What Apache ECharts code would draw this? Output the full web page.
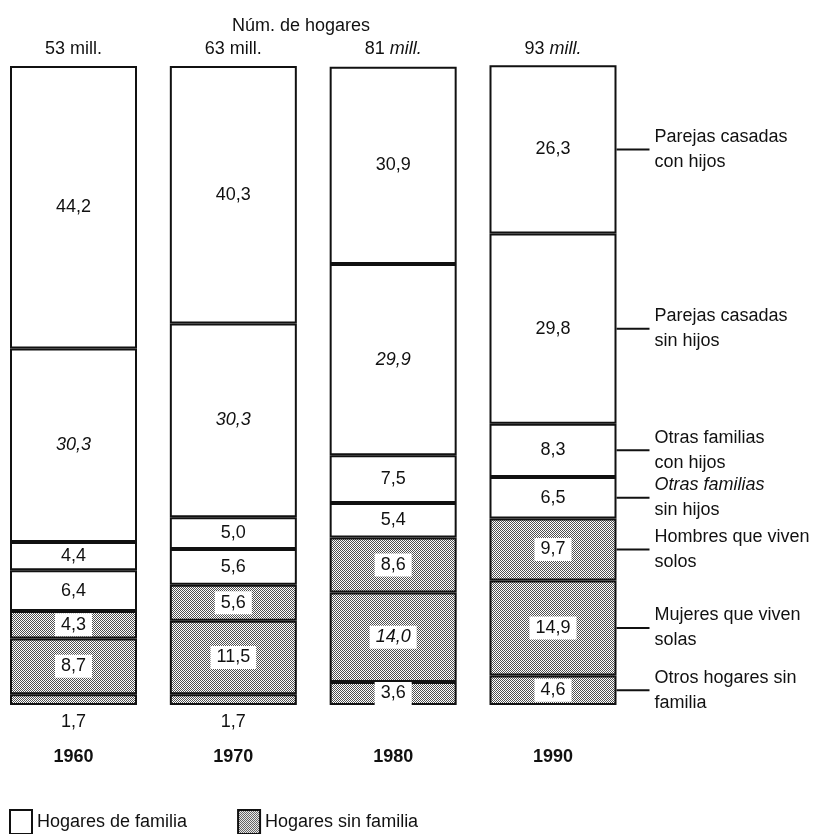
<!DOCTYPE html>
<html>
<head>
<meta charset="utf-8">
<script src="https://cdn.jsdelivr.net/npm/echarts@6/dist/echarts.min.js"></script>
<style>
html,body{margin:0;padding:0;background:#fff;}
#chart{width:839px;height:834px;}
</style>
</head>
<body>
<div id="chart"></div>
<script>
// ---- data ----
const years = ['1960', '1970', '1980', '1990'];
const households = ['53 mill.', '63 mill.', '81 mill.', '93 mill.'];
const otrosHogaresSinFamilia = [1.7, 1.7, 3.6, 4.6];
const mujeresSolas = [8.7, 11.5, 14.0, 14.9];
const hombresSolos = [4.3, 5.6, 8.6, 9.7];
const otrasFamiliasSinHijos = [6.4, 5.6, 5.4, 6.5];
const otrasFamiliasConHijos = [4.4, 5.0, 7.5, 8.3];
const parejasSinHijos = [30.3, 30.3, 29.9, 29.8];
const parejasConHijos = [44.2, 40.3, 30.9, 26.3];
const categoryNames = [
  'Otros hogares sin\nfamilia',
  'Mujeres que viven\nsolas',
  'Hombres que viven\nsolos',
  '{i|Otras familias}\nsin hijos',
  'Otras familias\ncon hijos',
  'Parejas casadas\nsin hijos',
  'Parejas casadas\ncon hijos'
];
const legendNames = ['Hogares de familia', 'Hogares sin familia'];

// ---- styling ----
const FF = "'Liberation Sans', Arial, Helvetica, sans-serif";
const INK = '#111';
const BAR_W = 127;
function makePattern() {
  const c = document.createElement('canvas');
  c.width = 2; c.height = 2;
  const ctx = c.getContext('2d');
  ctx.fillStyle = '#ffffff'; ctx.fillRect(0, 0, 2, 2);
  ctx.fillStyle = '#505050';
  ctx.fillRect(0, 0, 1, 1); ctx.fillRect(1, 1, 1, 1);
  return c;
}
const pattern = { image: makePattern(), repeat: 'repeat' };
const whiteFill = '#ffffff';

const seriesDefs = [
  { key: 'otros', values: otrosHogaresSinFamilia, shaded: true },
  { key: 'mujeres', values: mujeresSolas, shaded: true },
  { key: 'hombres', values: hombresSolos, shaded: true },
  { key: 'otrasSin', values: otrasFamiliasSinHijos, shaded: false },
  { key: 'otrasCon', values: otrasFamiliasConHijos, shaded: false },
  { key: 'parejasSin', values: parejasSinHijos, shaded: false },
  { key: 'parejasCon', values: parejasConHijos, shaded: false }
];
const italicKeys = new Set(['parejasSin-0', 'parejasSin-1', 'parejasSin-2', 'mujeres-2']);
const fmt = v => v.toFixed(1).replace('.', ',');

const barSeries = seriesDefs.map((d) => ({
  type: 'bar',
  name: d.key,
  stack: 'total',
  barWidth: BAR_W,
  clip: false,
  silent: true,
  itemStyle: { color: d.shaded ? pattern : whiteFill, borderColor: INK, borderWidth: 2 },
  label: {
    show: true,
    position: 'inside',
    formatter: p => fmt(p.value),
    fontSize: 18,
    fontFamily: FF,
    color: INK,
    backgroundColor: d.shaded ? '#fff' : 'transparent',
    padding: d.shaded ? [3, 6, 2, 6] : 0
  },
  data: d.values.map((v, i) => {
    const item = { value: v };
    const lab = {};
    if (italicKeys.has(d.key + '-' + i)) lab.fontStyle = 'italic';
    if (d.key === 'otros' && v < 2) {
      lab.position = 'bottom';
      lab.distance = 8;
      lab.backgroundColor = 'transparent';
      lab.padding = 0;
    }
    if (Object.keys(lab).length) item.label = lab;
    return item;
  })
}));

// annotation positions for last column (cumulative midpoints)
const lastIdx = years.length - 1;
let cum = 0;
const annotData = seriesDefs.map((d, k) => {
  const v = d.values[lastIdx];
  const mid = cum + v / 2;
  cum += v;
  return [lastIdx, mid, k];
});

const annotSeries = {
  type: 'custom',
  silent: true,
  clip: false,
  encode: { x: 0, y: 1 },
  data: annotData,
  renderItem: function (params, api) {
    const p = api.coord([api.value(0), api.value(1)]);
    const k = api.value(2);
    const x0 = p[0] + BAR_W / 2;
    return {
      type: 'group',
      children: [
        { type: 'line', shape: { x1: x0, y1: p[1], x2: x0 + 33, y2: p[1] }, style: { stroke: INK, lineWidth: 2 } },
        { type: 'text', x: x0 + 38, y: p[1],
          style: { text: categoryNames[k], fontSize: 18, fontFamily: FF, fill: INK,
                   verticalAlign: 'middle', align: 'left', lineHeight: 25,
                   rich: { i: { fontStyle: 'italic', fontSize: 18, fontFamily: FF, fill: INK, lineHeight: 25 } } } }
      ]
    };
  }
};

const legendSeries = [
  { type: 'bar', name: legendNames[0], stack: 'total', data: [], itemStyle: { color: whiteFill, borderColor: INK, borderWidth: 2 } },
  { type: 'bar', name: legendNames[1], stack: 'total', data: [], itemStyle: { color: pattern, borderColor: INK, borderWidth: 2 } }
];

const option = {
  animation: false,
  backgroundColor: '#fff',
  title: {
    text: 'Núm. de hogares',
    left: 227, top: 12,
    textStyle: { fontSize: 18, fontWeight: 'normal', color: INK, fontFamily: FF }
  },
  grid: { left: 73.5, right: 286, top: 66, bottom: 129 },
  xAxis: [
    { type: 'category', data: years, boundaryGap: false,
      axisLine: { show: false }, axisTick: { show: false }, splitLine: { show: false },
      axisLabel: { margin: 43, fontSize: 18, fontWeight: 'bold', color: INK, fontFamily: FF } },
    { type: 'category', data: households, boundaryGap: false, position: 'top',
      axisLine: { show: false }, axisTick: { show: false }, splitLine: { show: false },
      axisLabel: { margin: 8, fontSize: 18, color: INK, fontFamily: FF,
        formatter: (v, i) => {
          const parts = v.split(' ');
          return i >= 2 ? '{n|' + parts[0] + '} {i|' + parts[1] + '}' : '{n|' + v + '}';
        },
        rich: { n: { fontSize: 18, fontFamily: FF, color: INK }, i: { fontSize: 18, fontFamily: FF, color: INK, fontStyle: 'italic' } } } }
  ],
  yAxis: { type: 'value', min: 0, max: 100, show: false },
  legend: {
    data: legendNames,
    left: 4, top: 804,
    icon: 'rect',
    itemWidth: 22, itemHeight: 24, itemGap: 50,
    selectedMode: false,
    textStyle: { fontSize: 18, color: INK, fontFamily: FF }
  },
  series: barSeries.concat(legendSeries, [annotSeries])
};

const chart = echarts.init(document.getElementById('chart'), null, { renderer: 'canvas' });
chart.setOption(option);
</script>
</body>
</html>
